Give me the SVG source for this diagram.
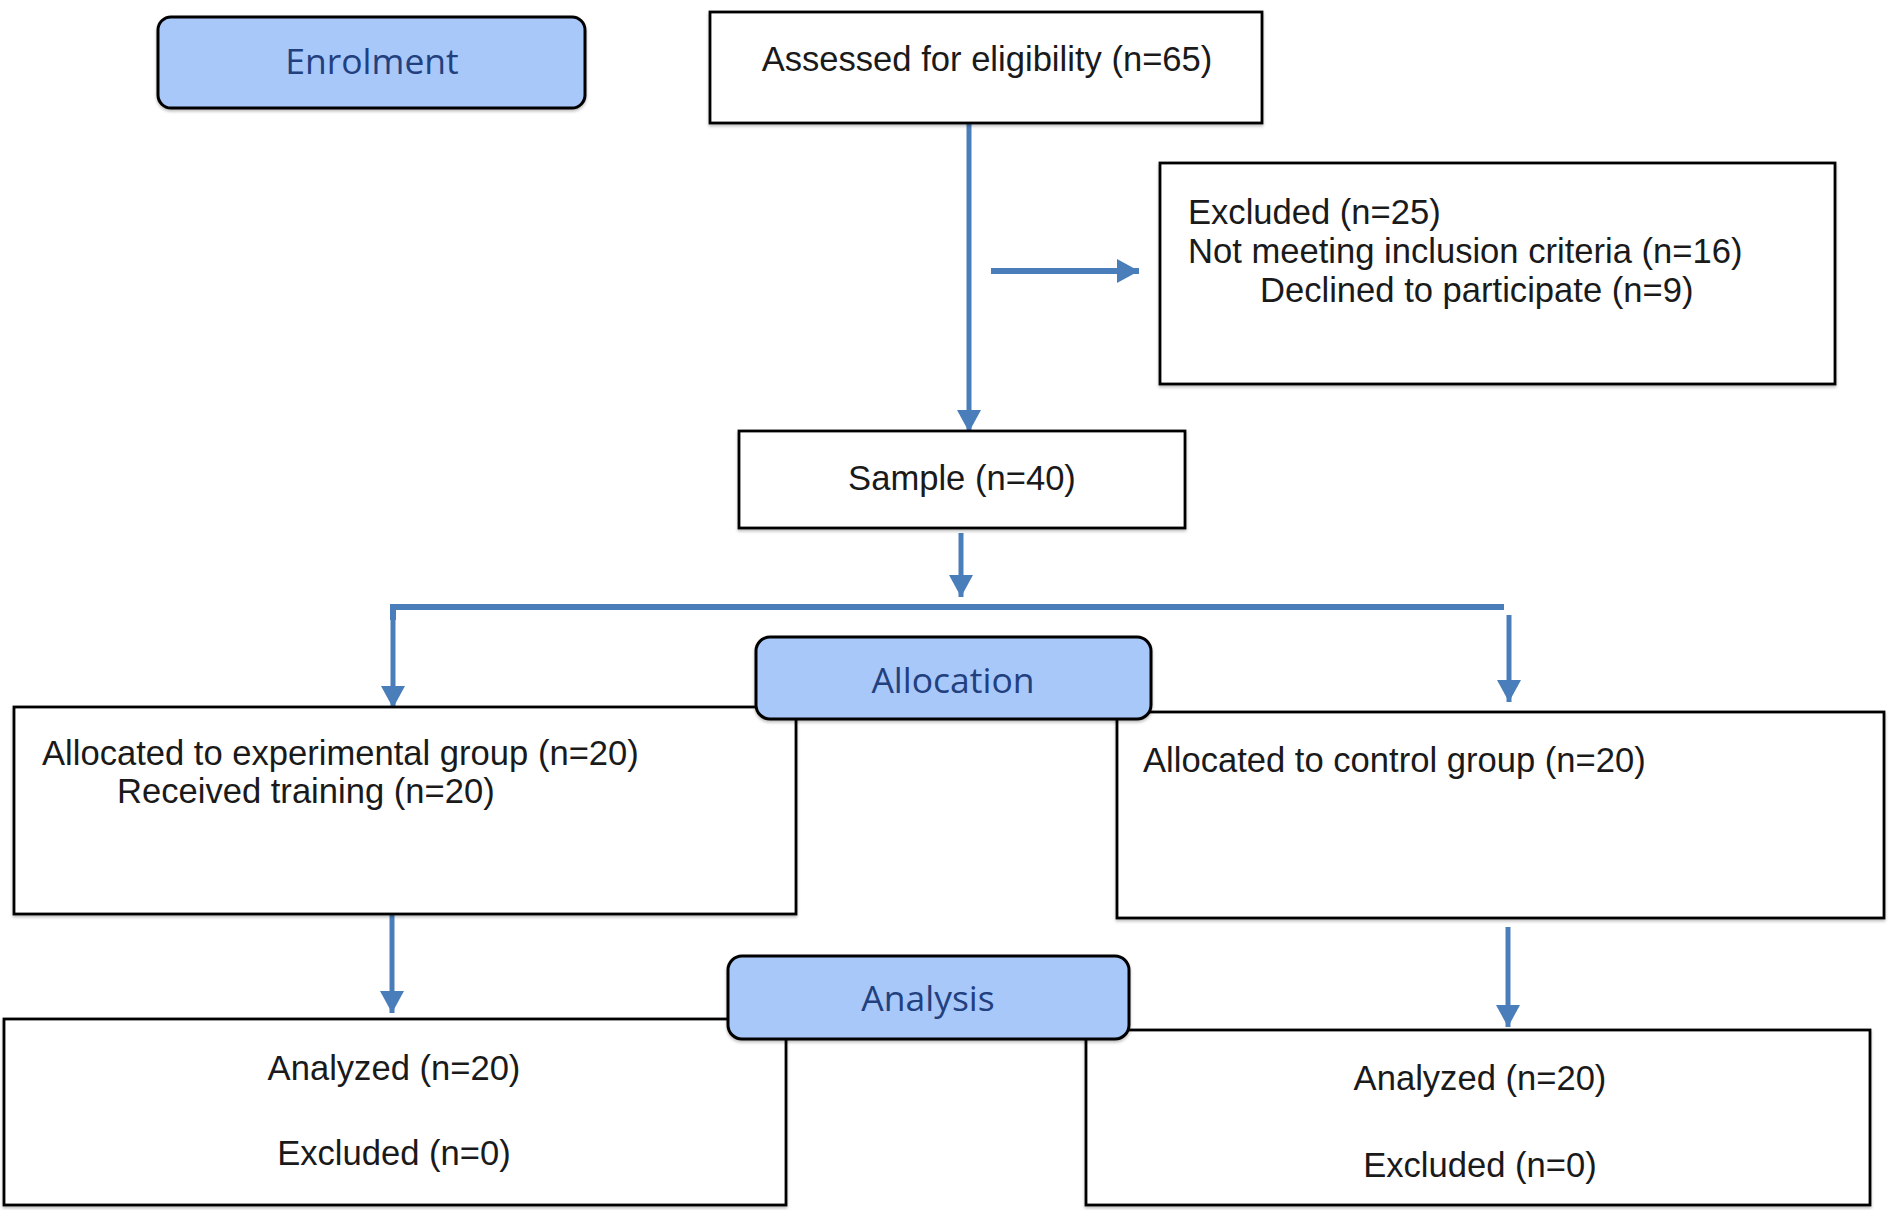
<svg xmlns="http://www.w3.org/2000/svg" width="1890" height="1210" viewBox="0 0 1890 1210">
<defs>
<style>
.box{fill:#ffffff;stroke:#000000;stroke-width:2.8}
.stage{fill:#a9c8fa;stroke:#000000;stroke-width:3}
.t{font-family:"Liberation Sans",Arial,sans-serif;font-size:34.6px;fill:#1a1a1a}
.st{font-family:"Open Sans","Noto Sans",sans-serif;font-size:35.5px;fill:#22407e;text-anchor:middle}
.c{text-anchor:middle}
.ln{fill:none;stroke:#4a7ebb;stroke-width:5}
.lnw{fill:none;stroke:#4a7ebb;stroke-width:6}
</style>
<marker id="ah" markerUnits="userSpaceOnUse" markerWidth="24" markerHeight="24" refX="22" refY="12" orient="auto" viewBox="0 0 24 24">
<path d="M0,0 L22,12 L0,24 z" fill="#4a7ebb"/>
</marker>
<filter id="sh" x="-5%" y="-5%" width="110%" height="120%">
<feDropShadow dx="0" dy="2" stdDeviation="1.5" flood-color="#000" flood-opacity="0.25"/>
</filter>
</defs>
<rect width="1890" height="1210" fill="#ffffff"/>

<g id="connectors">
<line class="ln" x1="969" y1="123" x2="969" y2="432" marker-end="url(#ah)"/>
<line class="lnw" x1="991" y1="271" x2="1139" y2="271" marker-end="url(#ah)"/>
<line class="ln" x1="961" y1="533" x2="961" y2="597" marker-end="url(#ah)"/>
<polyline class="lnw" points="1504,607 393,607 393,620"/>
<line class="ln" x1="393" y1="610" x2="393" y2="708" marker-end="url(#ah)"/>
<line class="ln" x1="1509" y1="615" x2="1509" y2="702" marker-end="url(#ah)"/>
<line class="ln" x1="392" y1="913" x2="392" y2="1013" marker-end="url(#ah)"/>
<line class="ln" x1="1508" y1="927" x2="1508" y2="1027" marker-end="url(#ah)"/>
</g>

<g id="enrolment">
<rect class="stage" x="158" y="17" width="427" height="91" rx="13" filter="url(#sh)"/>
<text class="st" x="372" y="74">Enrolment</text>
</g>

<g id="assessed">
<rect class="box" x="710" y="12" width="552" height="111" filter="url(#sh)"/>
<text class="t c" x="987" y="71">Assessed for eligibility (n=65)</text>
</g>

<g id="excluded">
<rect class="box" x="1160" y="163" width="675" height="221" filter="url(#sh)"/>
<text class="t" x="1188" y="224">Excluded (n=25)</text>
<text class="t" x="1188" y="263">Not meeting inclusion criteria (n=16)</text>
<text class="t" x="1260" y="302">Declined to participate (n=9)</text>
</g>

<g id="sample">
<rect class="box" x="739" y="431" width="446" height="97" filter="url(#sh)"/>
<text class="t c" x="962" y="490">Sample (n=40)</text>
</g>

<g id="experimental">
<rect class="box" x="14" y="707" width="782" height="207" filter="url(#sh)"/>
<text class="t" x="42" y="765">Allocated to experimental group (n=20)</text>
<text class="t" x="117" y="803">Received training (n=20)</text>
</g>

<g id="control">
<rect class="box" x="1117" y="712" width="767" height="206" filter="url(#sh)"/>
<text class="t" x="1143" y="772">Allocated to control group (n=20)</text>
</g>

<g id="allocation">
<rect class="stage" x="756" y="637" width="395" height="82" rx="14" filter="url(#sh)"/>
<text class="st" x="953" y="693">Allocation</text>
</g>

<g id="analyzed-experimental">
<rect class="box" x="4" y="1019" width="782" height="186" filter="url(#sh)"/>
<text class="t c" x="394" y="1080">Analyzed (n=20)</text>
<text class="t c" x="394" y="1165">Excluded (n=0)</text>
</g>

<g id="analyzed-control">
<rect class="box" x="1086" y="1030" width="784" height="175" filter="url(#sh)"/>
<text class="t c" x="1480" y="1090">Analyzed (n=20)</text>
<text class="t c" x="1480" y="1177">Excluded (n=0)</text>
</g>

<g id="analysis">
<rect class="stage" x="728" y="956" width="401" height="83" rx="14" filter="url(#sh)"/>
<text class="st" x="928" y="1011">Analysis</text>
</g>
</svg>
